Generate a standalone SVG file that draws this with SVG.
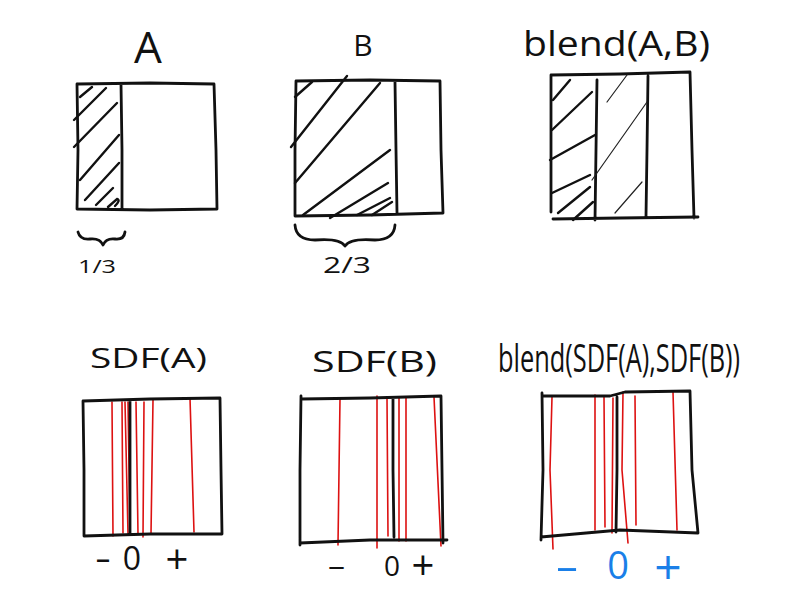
<svg xmlns="http://www.w3.org/2000/svg" width="803" height="602" viewBox="0 0 803 602">
<style>
.bx{fill:none;stroke:#111;stroke-width:2.8;stroke-linecap:round;stroke-linejoin:round}
.h{fill:none;stroke:#111;stroke-width:2.4;stroke-linecap:round}
.ht{fill:none;stroke:#222;stroke-width:1.2;stroke-linecap:round}
.r{fill:none;stroke:#dd1111;stroke-width:1.6;stroke-linecap:round}
.t{font-family:"Open Sans","DejaVu Sans",sans-serif;fill:#111}
.bl{font-family:"Open Sans","DejaVu Sans",sans-serif;fill:#1a7fe8}
</style>
<rect width="803" height="602" fill="#fff"/>
<g id="panelA">
<text class="t" x="148" y="63" font-size="44" text-anchor="middle">A</text>
<path class="bx" d="M77,84 L78,150 L77,209 M78,84 L150,83 L214,84 L216,150 L217,209 M77,209 L150,210 L217,209 M121,84 L122,150 L122,209"/>
<path class="h" d="M80,97 L92,87 M74,120 L106,88 M74,147 L117,103 M80,180 L119,135 M85,200 L119,163 M96,205 L113,188 M108,207 L117,199 Q121,200 115,206"/>
<path class="bx" d="M78,232 Q80,240 90,239 Q100,238 103,245 Q106,238 115,239 Q124,240 125,232"/>
<text class="t" x="78" y="273" font-size="19" textLength="38" lengthAdjust="spacingAndGlyphs">1/3</text>
</g>
<g id="panelB">
<text class="t" x="363" y="56" font-size="30" text-anchor="middle">B</text>
<path class="bx" d="M296,81 L295,150 L295,216 M296,81 L370,80 L440,81 L441,150 L443,213 M295,216 L370,215 L443,213 M395,82 L396,150 L397,213"/>
<path class="h" d="M295,97 L312,82 M291,147 L347,76 M295,183 L380,83 M303,215 L390,150 M330,218 L388,183 M357,215 L390,198 M372,215 L392,202"/>
<path class="bx" d="M295,225 Q296,240 315,240 Q340,238 345,246 Q350,238 375,240 Q394,240 395,225"/>
<text class="t" x="323" y="273" font-size="21" textLength="48" lengthAdjust="spacingAndGlyphs">2/3</text>
</g>
<g id="panelBlend">
<text class="t" x="523" y="56" font-size="34" textLength="187" lengthAdjust="spacingAndGlyphs">blend(A,B)</text>
<path class="bx" d="M551,75 L551,150 L551,212 M551,75 L620,74 L690,72 L692,150 L694,218 M553,219 L620,218 L698,217 M597,80 L596,150 L595,220 M648,76 L647,150 L646,216"/>
<path class="h" d="M553,100 L570,80 M552,130 L592,92 M550,160 L595,135 M552,193 L590,175 M558,213 L590,187 M573,220 L593,202"/>
<path class="ht" d="M607,102 L627,75 M592,180 L647,102 M615,213 L642,182"/>
</g>
<g id="panelSDFA">
<text class="t" x="90" y="368" font-size="28" textLength="117" lengthAdjust="spacingAndGlyphs">SDF(A)</text>
<path class="r" d="M112,402 L113,536 M122,402 L123,533 M125,402 L128,534 M128,402 L130,533 M136,402 L138,534 M144,402 L143,537 M153,400 L151,534 M190,398 L194,532"/>
<path class="bx" d="M83,401 L84,470 L84,536 M83,401 L150,399 L220,398 L221,470 L222,534 M84,536 L150,534 L222,534 M130,401 L130,470 L130,535"/>
<text class="t" x="95" y="570" font-size="32" textLength="16" lengthAdjust="spacingAndGlyphs">-</text>
<text class="t" x="132" y="570" font-size="32" text-anchor="middle">0</text>
<text class="t" x="177" y="574" font-size="40" text-anchor="middle">+</text>
</g>
<g id="panelSDFB">
<text class="t" x="312" y="372" font-size="30" textLength="125" lengthAdjust="spacingAndGlyphs">SDF(B)</text>
<path class="r" d="M340,399 L338,545 M377,396 L377,548 M387,398 L388,536 M399,397 L399,541 M406,398 L406,541 M434,397 L441,546"/>
<path class="bx" d="M301,396 L300,470 L300,545 M301,399 L370,398 L441,396 L442,470 L443,543 M300,543 L370,540 L447,540 M393,398 L393,470 L394,537"/>
<text class="t" x="327" y="576" font-size="30" textLength="19" lengthAdjust="spacingAndGlyphs">-</text>
<text class="t" x="392" y="576" font-size="28" text-anchor="middle">0</text>
<text class="t" x="423" y="580" font-size="40" text-anchor="middle">+</text>
</g>
<g id="panelBlendSDF">
<text class="t" transform="translate(498,372) scale(1,1.45)" x="0" y="0" font-size="26" textLength="242" lengthAdjust="spacingAndGlyphs">blend(SDF(A),SDF(B))</text>
<path class="r" d="M552,397 L550,470 L553,549 M595,395 L595,530 M604,397 L605,527 M613,398 L612,533 M623,392 L622,470 L628,543 M635,396 L636,525 M673,392 L677,530"/>
<path class="bx" d="M542,393 L543,470 L541,540 M542,396 L610,396 L625,392 L690,391 L692,470 L698,533 M541,537 L620,530 L698,533 M617,397 L617,470 L616,532"/>
<text class="bl" x="555" y="580" font-size="40" textLength="24" lengthAdjust="spacingAndGlyphs">-</text>
<text class="bl" x="618" y="579" font-size="38" text-anchor="middle">0</text>
<text class="bl" x="668" y="584" font-size="48" text-anchor="middle">+</text>
</g>
</svg>
